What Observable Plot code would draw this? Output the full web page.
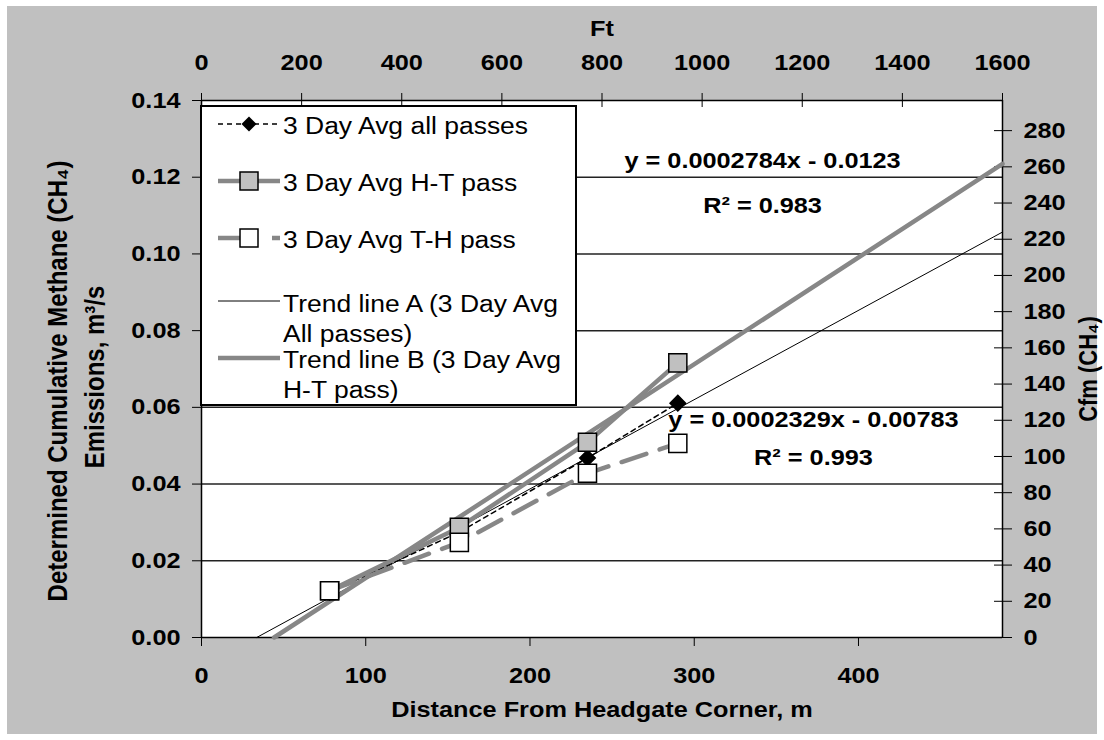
<!DOCTYPE html>
<html><head><meta charset="utf-8">
<script src="https://cdn.jsdelivr.net/npm/d3@7"></script>
<script src="https://cdn.jsdelivr.net/npm/@observablehq/plot@0.6"></script>
<style>
body{margin:0;background:#fff;width:1104px;height:740px;overflow:hidden;font-family:"Liberation Sans",Arial,sans-serif;}
#wrap{position:absolute;left:7px;top:6px;width:1090px;height:728px;background:#c0c0c0;}
#wrap svg{position:absolute;left:0;top:0;}
#legend{position:absolute;left:193px;top:99px;width:377px;height:301px;box-sizing:border-box;border:2.5px solid #000;background:#fff;}
#legend svg.sw{position:absolute;left:-2.5px;top:-2.5px;overflow:visible;}
#legend .lt{position:absolute;left:80.5px;font-size:23px;line-height:30px;color:#000;white-space:nowrap;transform:scaleX(1.15);transform-origin:0 0;}
</style></head><body><div id="wrap"><div id="legend"></div></div>
<script>
// ---- data ----
const distanceM = [78, 157, 235, 290];
const allPasses = [0.0118, 0.0275, 0.0468, 0.0611];
const htPass    = [0.0122, 0.0287, 0.0509, 0.0716];
const thPass    = [0.0122, 0.0248, 0.0428, 0.0506];
const trendAx = [33.6, 487.68];
const trendAy = [0, 0.1057];
const trendBx = [44.2, 487.68];
const trendBy = [0, 0.1235];
const yTicks = [0, 0.02, 0.04, 0.06, 0.08, 0.10, 0.12, 0.14];
const xTicks = [0, 100, 200, 300, 400];
const ftTicks = [0, 200, 400, 600, 800, 1000, 1200, 1400, 1600];
const cfmTicks = [0, 20, 40, 60, 80, 100, 120, 140, 160, 180, 200, 220, 240, 260, 280];
const legendLabels = ["3 Day Avg all passes", "3 Day Avg H-T pass", "3 Day Avg T-H pass",
  "Trend line A (3 Day Avg<br>All passes)", "Trend line B (3 Day Avg<br>H-T pass)"];
const eqA = ["y = 0.0002329x - 0.00783", "R² = 0.993"];
const eqB = ["y = 0.0002784x - 0.0123", "R² = 0.983"];

const M_PER_FT = 0.3048, CFM_PER_M3S = 2118.88;
const xMax = 1600 * M_PER_FT;

const rows = distanceM.map((d, i) => ({d, all: allPasses[i], ht: htPass[i], th: thPass[i]}));
const trendA = trendAx.map((x, i) => ({x, y: trendAy[i]}));
const trendB = trendBx.map((x, i) => ({x, y: trendBy[i]}));
const cfmPos = cfmTicks.map(c => c / CFM_PER_M3S);
const ftPos = ftTicks.map(f => f * M_PER_FT);
const blank = () => "";

const GRAY = "#878787";
const plot = Plot.plot({
  width: 1090, height: 728,
  marginLeft: 194, marginRight: 95, marginTop: 94, marginBottom: 97,
  style: {background: "transparent", fontFamily: "'Liberation Sans', Arial, sans-serif", fontSize: "22px", fontWeight: "bold", color: "#000", overflow: "visible"},
  x: {domain: [0, xMax], label: null},
  y: {domain: [0, 0.14], label: null},
  marks: [
    Plot.frame({fill: "white", stroke: null}),
    Plot.ruleY(yTicks.slice(1, -1), {stroke: "#222", strokeWidth: 1.5}),
    Plot.ruleX([0, xMax], {stroke: "#000", strokeWidth: 1.5}),
    Plot.ruleY([0, 0.14], {stroke: "#000", strokeWidth: 1.5}),
    // left axis
    Plot.axisY(yTicks, {anchor: "left", tickSize: 9, tickPadding: 12, tickFormat: d3.format(".2f"), label: null}),
    // right axis (cfm): crossing ticks + labels
    Plot.axisY(cfmPos, {anchor: "right", tickSize: 18, dx: -9, tickFormat: blank, label: null}),
    Plot.axisY(cfmPos, {anchor: "right", tickSize: 0, tickPadding: 21, tickFormat: d => String(Math.round(d * CFM_PER_M3S)), label: null}),
    // top axis (ft): crossing ticks + labels
    Plot.axisX(ftPos, {anchor: "top", tickSize: 14, dy: 6, tickFormat: blank, label: null}),
    Plot.axisX(ftPos, {anchor: "top", tickSize: 0, tickPadding: 38, lineAnchor: "middle", tickFormat: d => String(Math.round(d / M_PER_FT)), label: null}),
    // bottom axis (m)
    Plot.axisX(xTicks, {anchor: "bottom", tickSize: 9, tickPadding: 29, lineAnchor: "middle", label: null}),
    // titles
    Plot.text(["Ft"], {frameAnchor: "top", lineAnchor: "middle", textAnchor: "middle", dy: -72}),
    Plot.text(["Distance From Headgate Corner, m"], {frameAnchor: "bottom", lineAnchor: "middle", textAnchor: "middle", dy: 72}),
    Plot.text(["Determined Cumulative Methane (CH₄)"], {frameAnchor: "left", textAnchor: "middle", lineAnchor: "middle", rotate: -90, dx: -143, dy: 12, fontSize: 24}),
    Plot.text(["Emissions, m³/s"], {frameAnchor: "left", textAnchor: "middle", lineAnchor: "middle", rotate: -90, dx: -106, dy: 8, fontSize: 24}),
    Plot.text(["Cfm (CH₄)"], {frameAnchor: "right", textAnchor: "middle", lineAnchor: "middle", rotate: -90, dx: 86}),
    // trend lines
    Plot.line(trendA, {x: "x", y: "y", stroke: "#000", strokeWidth: 1}),
    Plot.line(trendB, {x: "x", y: "y", stroke: GRAY, strokeWidth: 4.5}),
    // series lines
    Plot.line(rows, {x: "d", y: "all", stroke: "#000", strokeWidth: 1.5, strokeDasharray: "5,4"}),
    Plot.line(rows, {x: "d", y: "ht", stroke: GRAY, strokeWidth: 4.5}),
    Plot.line(rows, {x: "d", y: "th", stroke: GRAY, strokeWidth: 4.5, strokeDasharray: "26,14"}),
    // markers
    Plot.dot(rows, {x: "d", y: "all", symbol: "diamond2", r: 7, fill: "#000", stroke: "#000"}),
    Plot.dot(rows, {x: "d", y: "ht", symbol: "square", r: 10.2, fill: "#c0c0c0", stroke: "#000", strokeWidth: 1.5}),
    Plot.dot(rows, {x: "d", y: "th", symbol: "square", r: 10.2, fill: "#fff", stroke: "#000", strokeWidth: 1.5}),
    // equation labels
    Plot.text([eqB[0]], {x: 341.6, y: 0.1243}),
    Plot.text([eqB[1]], {x: 341.6, y: 0.1126}),
    Plot.text([eqA[0]], {x: 372.6, y: 0.0566}),
    Plot.text([eqA[1]], {x: 372.6, y: 0.0467})
  ]
});
const wrap = document.getElementById("wrap");
wrap.insertBefore(plot, wrap.firstChild);

// horizontal stretch of all text glyphs (the reference chart is stretched)
const SX = 1.15;
plot.querySelectorAll("text").forEach(t => {
  const tr = t.getAttribute("transform");
  if (tr) {
    if (tr.includes("rotate")) t.setAttribute("transform", tr.replace("rotate", `scale(${SX},1) rotate`));
    else t.setAttribute("transform", tr + ` scale(${SX},1)`);
  } else {
    const x = parseFloat(t.getAttribute("x")) || 0;
    t.setAttribute("transform", `translate(${x},0) scale(${SX},1) translate(${-x},0)`);
  }
});

// ---- legend (inside the plot area, as in the reference) ----
const legend = document.getElementById("legend");
const rowY = [19, 76, 133, 196, 253];
const textTop = [4.3, 61.3, 118.3, 182.3, 238.3];
const ns = "http://www.w3.org/2000/svg";
const sw = document.createElementNS(ns, "svg");
sw.setAttribute("class", "sw"); sw.setAttribute("width", 120); sw.setAttribute("height", 300);
function el(name, attrs) { const e = document.createElementNS(ns, name); for (const k in attrs) e.setAttribute(k, attrs[k]); sw.appendChild(e); return e; }
const styles = [
  {stroke: "#000", w: 1.5, dash: "5,4", marker: "diamond"},
  {stroke: GRAY, w: 4.5, dash: null, marker: "gray"},
  {stroke: GRAY, w: 4.5, dash: "22,32,8,100", marker: "white"},
  {stroke: "#000", w: 1, dash: null, marker: null},
  {stroke: GRAY, w: 4.5, dash: null, marker: null}
];
styles.forEach((s, i) => {
  const y = rowY[i];
  const a = {x1: 18, x2: 80, y1: y, y2: y, stroke: s.stroke, "stroke-width": s.w};
  if (s.dash) a["stroke-dasharray"] = s.dash;
  el("line", a);
  if (s.marker === "diamond") el("path", {d: `M49,${y - 7.5}L56.5,${y}L49,${y + 7.5}L41.5,${y}Z`, fill: "#000"});
  if (s.marker === "gray") el("rect", {x: 40, y: y - 9, width: 18, height: 18, fill: "#c0c0c0", stroke: "#000", "stroke-width": 1.5});
  if (s.marker === "white") el("rect", {x: 40, y: y - 9, width: 18, height: 18, fill: "#fff", stroke: "#000", "stroke-width": 1.5});
  const d = document.createElement("div");
  d.className = "lt"; d.style.top = textTop[i] + "px"; d.innerHTML = legendLabels[i];
  legend.appendChild(d);
});
legend.appendChild(sw);
</script>
</body></html>
